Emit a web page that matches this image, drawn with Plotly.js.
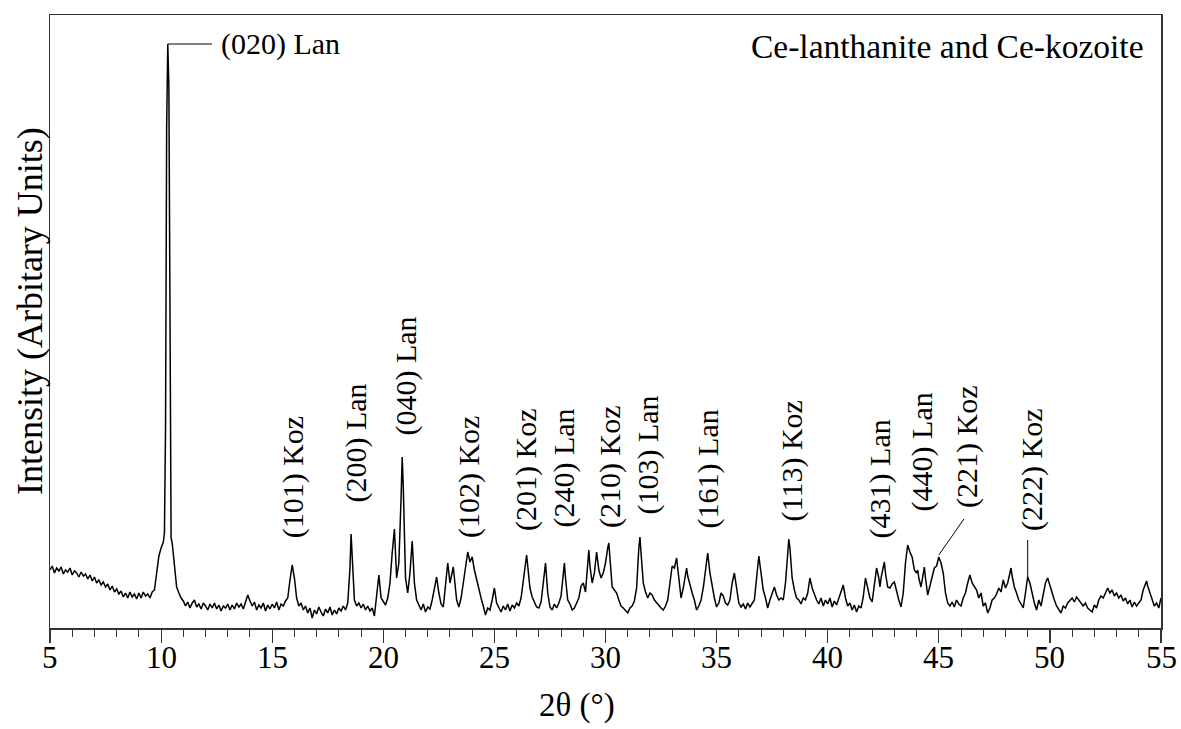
<!DOCTYPE html>
<html>
<head>
<meta charset="utf-8">
<script src="https://cdn.plot.ly/plotly-3.0.1.min.js"></script>
<style>html,body{margin:0;padding:0;background:#fff;}#chart{width:1181px;height:729px;}</style>
</head>
<body>
<div id="chart"></div>
<script>
// ---- data (2θ in degrees, intensity in arbitrary units) ----
const twoTheta = [
5.0,5.1,5.2,5.3,5.4,5.5,5.6,5.7,5.8,5.9,6.0,6.1,6.2,6.3,6.4,6.5,6.6,6.7,6.8,6.9,
7.0,7.1,7.2,7.3,7.4,7.5,7.6,7.7,7.8,7.9,8.0,8.1,8.2,8.3,8.4,8.5,8.6,8.7,8.8,8.9,
9.0,9.1,9.2,9.3,9.4,9.5,9.6,9.7,9.8,9.9,10.0,10.1,10.15,10.2,10.25,10.3,10.35,10.4,10.45,10.5,
10.6,10.7,10.8,10.9,11.0,11.1,11.2,11.3,11.4,11.5,11.6,11.7,11.8,11.9,12.0,12.1,12.2,12.3,12.4,12.5,
12.6,12.7,12.8,12.9,13.0,13.1,13.2,13.3,13.4,13.5,13.6,13.7,13.8,13.9,14.0,14.1,14.2,14.3,14.4,14.5,
14.6,14.7,14.8,14.9,15.0,15.1,15.2,15.3,15.4,15.5,15.6,15.7,15.8,15.9,16.0,16.1,16.2,16.3,16.4,16.5,
16.6,16.7,16.8,16.9,17.0,17.1,17.2,17.3,17.4,17.5,17.6,17.7,17.8,17.9,18.0,18.1,18.2,18.3,18.4,18.5,
18.55,18.6,18.7,18.8,18.9,19.0,19.1,19.2,19.3,19.4,19.5,19.6,19.7,19.8,19.9,20.0,20.1,20.2,20.3,20.4,
20.5,20.6,20.7,20.8,20.85,20.9,21.0,21.1,21.2,21.3,21.4,21.5,21.6,21.7,21.8,21.9,22.0,22.1,22.2,22.3,
22.4,22.5,22.6,22.7,22.8,22.9,23.0,23.1,23.15,23.2,23.3,23.4,23.5,23.6,23.7,23.8,23.9,24.0,24.1,24.2,
24.3,24.4,24.5,24.6,24.7,24.8,24.9,25.0,25.1,25.2,25.3,25.4,25.5,25.6,25.7,25.8,25.9,26.0,26.1,26.2,
26.3,26.4,26.45,26.5,26.6,26.7,26.8,26.9,27.0,27.1,27.2,27.3,27.4,27.5,27.6,27.7,27.8,27.9,28.0,28.1,
28.15,28.2,28.3,28.4,28.5,28.6,28.7,28.8,28.9,29.0,29.1,29.2,29.25,29.3,29.4,29.5,29.6,29.7,29.8,29.9,
30.0,30.1,30.15,30.2,30.3,30.4,30.5,30.6,30.7,30.8,30.9,31.0,31.1,31.2,31.3,31.4,31.5,31.55,31.6,31.7,
31.8,31.9,32.0,32.1,32.2,32.3,32.4,32.5,32.6,32.7,32.8,32.9,33.0,33.1,33.2,33.3,33.4,33.5,33.6,33.65,
33.7,33.8,33.9,34.0,34.1,34.2,34.3,34.4,34.5,34.6,34.7,34.8,34.9,35.0,35.1,35.2,35.3,35.4,35.5,35.6,
35.7,35.8,35.9,36.0,36.1,36.2,36.3,36.4,36.5,36.6,36.7,36.8,36.9,37.0,37.1,37.2,37.3,37.4,37.5,37.6,
37.7,37.8,37.9,38.0,38.1,38.2,38.25,38.3,38.4,38.5,38.6,38.7,38.8,38.9,39.0,39.1,39.2,39.3,39.4,39.5,
39.6,39.7,39.8,39.9,40.0,40.1,40.2,40.3,40.4,40.5,40.6,40.7,40.8,40.9,41.0,41.1,41.2,41.3,41.4,41.5,
41.6,41.7,41.8,41.9,42.0,42.1,42.2,42.3,42.35,42.4,42.5,42.55,42.6,42.7,42.8,42.9,43.0,43.1,43.2,43.3,
43.4,43.5,43.6,43.7,43.8,43.9,44.0,44.05,44.1,44.2,44.3,44.35,44.4,44.5,44.6,44.7,44.8,44.9,45.0,45.1,
45.2,45.3,45.4,45.5,45.6,45.7,45.8,45.9,46.0,46.1,46.2,46.3,46.4,46.5,46.6,46.7,46.8,46.9,47.0,47.1,
47.2,47.3,47.4,47.5,47.6,47.7,47.8,47.9,48.0,48.1,48.2,48.25,48.3,48.4,48.5,48.6,48.7,48.8,48.9,49.0,
49.1,49.2,49.3,49.4,49.5,49.6,49.7,49.8,49.9,50.0,50.1,50.2,50.3,50.4,50.5,50.6,50.7,50.8,50.9,51.0,
51.1,51.2,51.3,51.4,51.5,51.6,51.7,51.8,51.9,52.0,52.1,52.2,52.3,52.4,52.5,52.6,52.7,52.8,52.9,53.0,
53.1,53.2,53.3,53.4,53.5,53.6,53.7,53.8,53.9,54.0,54.1,54.2,54.3,54.35,54.4,54.5,54.6,54.7,54.8,54.9,
55.0
];
const intensity = [
58,62,55,60,57,61,54,58,56,60,53,57,55,51,56,52,54,49,53,47,
51,45,48,43,46,41,44,38,42,36,39,34,37,31,35,30,36,31,34,29,
35,30,36,32,34,30,36,38,55,72,80,86,95,200,500,584,540,300,90,85,
60,41,35,30,27,22,26,20,25,28,21,24,19,25,22,18,24,20,25,19,
23,17,22,20,24,18,23,19,25,21,24,19,26,33,27,22,26,18,23,20,
25,17,23,19,24,20,26,18,24,22,27,30,48,63,50,30,22,25,18,22,
15,20,10,18,14,21,16,12,19,15,21,13,18,14,20,17,22,18,25,60,
94,70,28,22,25,20,24,18,22,17,20,12,35,53,30,26,23,30,45,75,
99,50,65,130,171,140,50,35,55,87,45,28,22,18,24,16,21,19,28,40,
51,35,24,21,40,65,45,55,61,50,28,21,30,45,62,76,66,71,58,48,
40,30,22,13,20,18,28,40,25,20,16,22,18,24,17,23,20,25,22,30,
48,70,73,62,40,31,25,21,20,26,45,65,35,21,18,24,20,25,32,55,
65,50,28,24,18,20,25,30,42,45,36,65,78,62,45,55,76,58,50,55,
65,80,85,70,41,38,35,28,22,20,18,15,20,22,27,40,80,91,75,45,
36,30,35,33,28,25,23,20,18,22,28,45,62,60,70,50,30,40,55,60,
52,42,35,28,18,22,28,40,60,75,55,40,30,21,25,35,32,25,23,28,
45,55,40,25,21,24,19,25,21,24,28,50,72,55,38,30,20,28,35,41,
33,28,30,28,45,78,89,80,50,38,30,28,24,30,28,35,50,40,33,28,
24,30,22,28,24,30,21,27,23,30,35,43,30,22,25,18,23,16,22,20,
31,50,40,30,26,45,60,50,41,50,62,66,55,41,40,44,46,36,28,21,
35,65,83,76,71,58,55,58,50,41,55,61,50,33,42,52,60,62,71,65,
55,35,25,22,26,21,28,24,22,30,35,45,53,45,42,38,30,35,22,25,
15,20,28,30,34,40,36,48,40,45,55,60,52,41,35,28,24,20,35,51,
45,33,25,18,28,22,35,45,50,42,35,28,22,18,15,22,20,25,28,30,
26,31,28,25,22,25,20,18,16,23,20,28,32,30,36,40,35,38,32,35,
30,33,27,30,24,28,21,26,22,25,28,38,45,47,42,35,28,22,25,20,
30
];

// x tick labels (2θ)
const tickValues = [5,10,15,20,25,30,35,40,45,50,55];

// peak labels (Miller index + phase) and the 2θ of the peak each one marks
const peakLabels = ["(101) Koz","(200) Lan","(040) Lan","(102) Koz","(201) Koz","(240) Lan","(210) Koz",
                    "(103) Lan","(161) Lan","(113) Koz","(431) Lan","(440) Lan","(221) Koz","(222) Koz"];
const peakLabelTheta = [15.95,18.73,20.98,23.86,26.42,28.09,30.2,31.87,34.61,38.39,42.35,44.24,46.27,49.19];
// layout: height (in intensity units) of each label's lower end
const peakLabelBase = [88,123,190,88,95,98,98,111,98,105,88,115,118,95];

const mainLabel = "(020) Lan";
const mainPeakTheta = 10.3;
const mainPeakValue = 584;
const chartTitle = "Ce-lanthanite and Ce-kozoite";
const xTitle = "2θ (°)";
const yTitle = "Intensity (Arbitary Units)";

const FONT = "'Liberation Serif', 'Times New Roman', 'DejaVu Serif', serif";

const annotations = peakLabels.map((t, i) => ({
  text: t, x: peakLabelTheta[i], y: peakLabelBase[i], xref: 'x', yref: 'y',
  textangle: -90, xanchor: 'center', yanchor: 'bottom', showarrow: false,
  font: {family: FONT, size: 30, color: '#000'}
}));
tickValues.forEach(v => annotations.push({
  text: String(v), x: v, y: -0.0475, xref: 'x', yref: 'paper',
  xanchor: 'center', yanchor: 'middle', showarrow: false,
  font: {family: FONT, size: 31, color: '#000'}
}));
annotations.push({
  text: mainLabel, x: 12.6, y: mainPeakValue, xref: 'x', yref: 'y',
  xanchor: 'left', yanchor: 'middle', showarrow: false,
  font: {family: FONT, size: 30, color: '#000'}
});
annotations.push({
  text: chartTitle, x: 0.9865, y: 0.948, xref: 'paper', yref: 'paper',
  xanchor: 'right', yanchor: 'middle', showarrow: false,
  font: {family: FONT, size: 33.5, color: '#000'}
});
annotations.push({
  text: xTitle, x: 0.474, y: -0.126, xref: 'paper', yref: 'paper',
  xanchor: 'center', yanchor: 'middle', showarrow: false,
  font: {family: FONT, size: 33, color: '#000'}
});
annotations.push({
  text: yTitle, x: -0.018, y: 0.517, xref: 'paper', yref: 'paper', textangle: -90,
  xanchor: 'center', yanchor: 'middle', showarrow: false,
  font: {family: FONT, size: 36, color: '#000'}
});

const shapes = [
  {type: 'line', xref: 'x', yref: 'y', x0: mainPeakTheta, x1: 12.29, y0: mainPeakValue, y1: mainPeakValue,
   line: {color: '#000', width: 1}},
  {type: 'line', xref: 'x', yref: 'y', x0: 45.0, x1: 46.13, y0: 73, y1: 109, line: {color: '#000', width: 1}},
  {type: 'line', xref: 'x', yref: 'y', x0: 49.0, x1: 49.0, y0: 51, y1: 88, line: {color: '#000', width: 1}}
];

const trace = {
  x: twoTheta, y: intensity, type: 'scatter', mode: 'lines',
  line: {color: '#000', width: 1.5}, hoverinfo: 'skip'
};

const layout = {
  width: 1181, height: 729,
  margin: {l: 50, r: 20, t: 15, b: 101},
  paper_bgcolor: '#fff', plot_bgcolor: '#fff',
  showlegend: false,
  font: {family: FONT, color: '#000'},
  xaxis: {
    range: [5, 55], tickvals: tickValues, ticks: 'outside', ticklen: 13, tickwidth: 1.2, tickcolor: '#333',
    showticklabels: false,
    minor: {dtick: 1, tick0: 5, ticks: 'outside', ticklen: 7, tickwidth: 1, tickcolor: '#333'},
    showline: true, linecolor: '#333', linewidth: 1.5, mirror: true,
    showgrid: false, zeroline: false
  },
  yaxis: {
    range: [0, 613], showticklabels: false, ticks: '',
    showline: true, linecolor: '#333', linewidth: 1.5, mirror: true,
    showgrid: false, zeroline: false
  },
  annotations: annotations,
  shapes: shapes
};

Plotly.newPlot('chart', [trace], layout, {displayModeBar: false, staticPlot: true});
</script>
</body>
</html>
